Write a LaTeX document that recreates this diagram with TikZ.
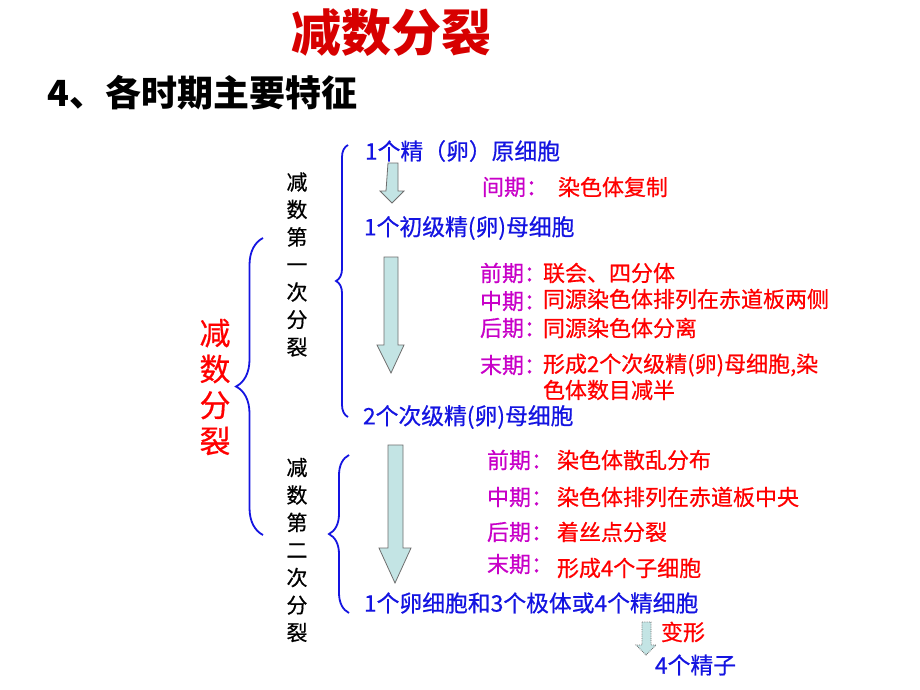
\documentclass[tikz,border=0pt]{standalone}
\usepackage{fontspec}
\newfontfamily\cjk{Noto Sans CJK SC}
\newfontfamily\cjkb[FakeBold=0.6]{Noto Sans CJK SC}
\usetikzlibrary{decorations.pathreplacing}
\definecolor{tblue}{RGB}{20,20,225}
\definecolor{tred}{RGB}{255,0,0}
\definecolor{ttitle}{RGB}{215,0,0}
\definecolor{tmag}{RGB}{200,0,200}
\definecolor{afill}{RGB}{195,228,228}
\definecolor{aedge}{RGB}{110,110,110}
\tikzset{
  base/.style={inner sep=0pt, outer sep=0pt, font=\cjkb\fontsize{22}{25}\selectfont},
  cell/.style={base, text=tblue, anchor=west, font=\cjkb\fontsize{22.8}{25}\selectfont},
  phase/.style={base, text=tmag, anchor=west},
  desc/.style={base, text=tred, anchor=west},
  vert/.style={inner sep=0pt, align=center, font=\cjkb\fontsize{21}{27.5}\selectfont},
  bigarrow/.style={fill=afill, draw=aedge, line width=0.8pt},
  bracket/.style={draw=tblue, line width=1.8pt, decorate},
}
\begin{document}
\begin{tikzpicture}[x=1pt,y=-1pt]
\useasboundingbox[fill=white] (0,0) rectangle (920,690);
% titles
\node[inner sep=0pt, text=ttitle, font=\cjk\bfseries\fontsize{50}{55}\selectfont] (title) at (391,33) {减数分裂};
\node[inner sep=0pt, anchor=west, font=\cjk\bfseries\fontsize{36}{42}\selectfont] (sub) at (47,93) {4、各时期主要特征};
% vertical labels
\node[vert, text=tred, font=\cjkb\fontsize{31}{36}\selectfont] (main) at (215,387) {减\\数\\分\\裂};
\node[vert] (m1) at (297,264.5) {减\\数\\第\\一\\次\\分\\裂};
\node[vert] (m2) at (297,550) {减\\数\\第\\二\\次\\分\\裂};
% braces
\draw[bracket, decoration={brace, amplitude=27pt}] (263,535) -- (263,238);
\draw[bracket, decoration={brace, amplitude=12pt}] (348,417) -- (348,145);
\draw[bracket, decoration={brace, amplitude=20pt}] (349,613) -- (349,455);
% cells
\node[cell] (c1) at (365,151) {1个精（卵）原细胞};
\node[cell] (c2) at (364,228) {1个初级精(卵)母细胞};
\node[cell] (c3) at (363,417) {2个次级精(卵)母细胞};
\node[cell] (c4) at (364,603) {1个卵细胞和3个极体或4个精细胞};
\node[cell] (c5) at (655,665) {4个精子};
\node[desc] (bx) at (661,632) {变形};
% interphase
\node[phase] (p0) at (482,187) {间期：};
\node[desc] (d0) at (558,187) {染色体复制};
% meiosis I
\node[phase] (p1) at (480,273) {前期：};
\node[desc] (d1) at (543,273) {联会、四分体};
\node[phase] (p2) at (480,301) {中期：};
\node[desc] (d2) at (543,299) {同源染色体排列在赤道板两侧};
\node[phase] (p3) at (480,328) {后期：};
\node[desc] (d3) at (543,328) {同源染色体分离};
\node[phase] (p4) at (480,365) {末期：};
\node[desc] (d4) at (543,365) {形成2个次级精(卵)母细胞,染};
\node[desc] (d4b) at (543,390) {色体数目减半};
% meiosis II
\node[phase] (q1) at (487,460) {前期：};
\node[desc] (e1) at (557,460) {染色体散乱分布};
\node[phase] (q2) at (487,497) {中期：};
\node[desc] (e2) at (557,497) {染色体排列在赤道板中央};
\node[phase] (q3) at (487,532) {后期：};
\node[desc] (e3) at (557,532) {着丝点分裂};
\node[phase] (q4) at (487,564) {末期：};
\node[desc] (e4) at (557,568) {形成4个子细胞};
% arrows
\draw[bigarrow] (388,163) -- (398,163) -- (398,191) -- (404,191) -- (392,203) -- (380,191) -- (386,191) -- cycle;
\draw[bigarrow] (384,257) -- (398,257) -- (398,345) -- (404,345) -- (391,373) -- (377,345) -- (384,345) -- cycle;
\draw[bigarrow] (388,445) -- (403,445) -- (403,548) -- (411,548) -- (395,583) -- (379,548) -- (388,548) -- cycle;
\draw[bigarrow, densely dotted] (642,622) -- (651,622) -- (651,645) -- (656,645) -- (646,655) -- (636,645) -- (642,645) -- cycle;
\end{tikzpicture}
\end{document}
